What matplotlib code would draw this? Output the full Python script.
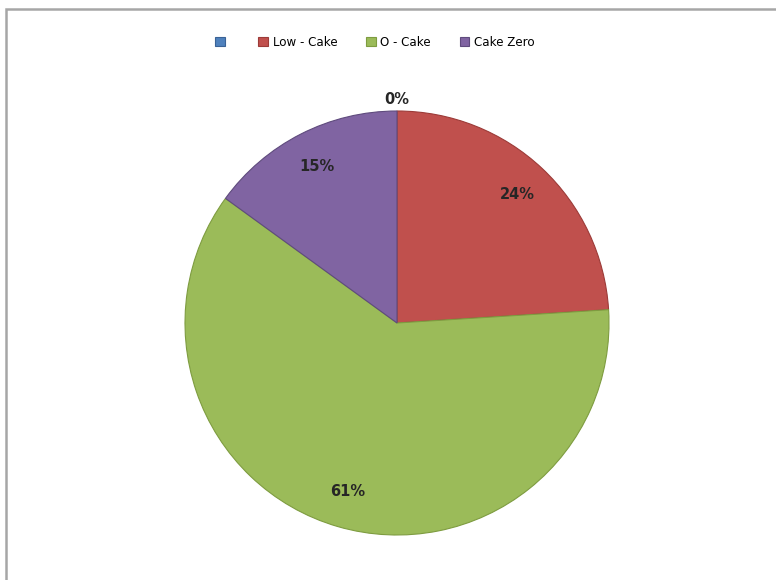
import matplotlib.pyplot as plt
from matplotlib.patches import Rectangle

labels = ['', 'Low - Cake', 'O - Cake', 'Cake Zero']
shares = [0, 24, 61, 15]
colors = ['#4F81BD', '#C0504D', '#9BBB59', '#8064A2']
edges = ['#3A6296', '#9C3B38', '#7E9C40', '#5F4B7D']

fig = plt.figure(figsize=(7.76, 5.8), dpi=100)

# chart area frame (runs off the right and bottom edge)
fig.patches.append(Rectangle((6 / 776, -0.05), 1.0, (580 - 9) / 580 + 0.05,
                             transform=fig.transFigure, fill=False,
                             edgecolor='#A6A6A6', linewidth=1.8))

r = 212
cx, cy = 397, 580 - 323
ax = fig.add_axes([(cx - r) / 776, (cy - r) / 580, 2 * r / 776, 2 * r / 580])

wedges, texts, autotexts = ax.pie(
    shares, colors=colors, startangle=90, counterclock=False,
    autopct='%1.0f%%', pctdistance=0.83, radius=1.0,
    wedgeprops=dict(linewidth=0.8),
    textprops=dict(fontsize=10.5, fontweight='bold', color='#262626'))
for w, ec in zip(wedges, edges):
    w.set_edgecolor(ec)

# the empty slice gets its label just above the rim
autotexts[0].set_position((0, 1.055))

ax.set_xlim(-1, 1)
ax.set_ylim(-1, 1)
ax.set_aspect('equal')
ax.axis('off')

handles = [Rectangle((0, 0), 1, 1, facecolor=c, edgecolor=e, linewidth=0.8)
           for c, e in zip(colors, edges)]
fig.legend(handles, labels, loc='center', bbox_to_anchor=(375 / 776, 1 - 42 / 580),
           ncol=4, frameon=False, fontsize=8.6, handlelength=0.8, handleheight=0.8,
           handletextpad=0.4, columnspacing=2.4)

fig.savefig('out.png', dpi=100)
